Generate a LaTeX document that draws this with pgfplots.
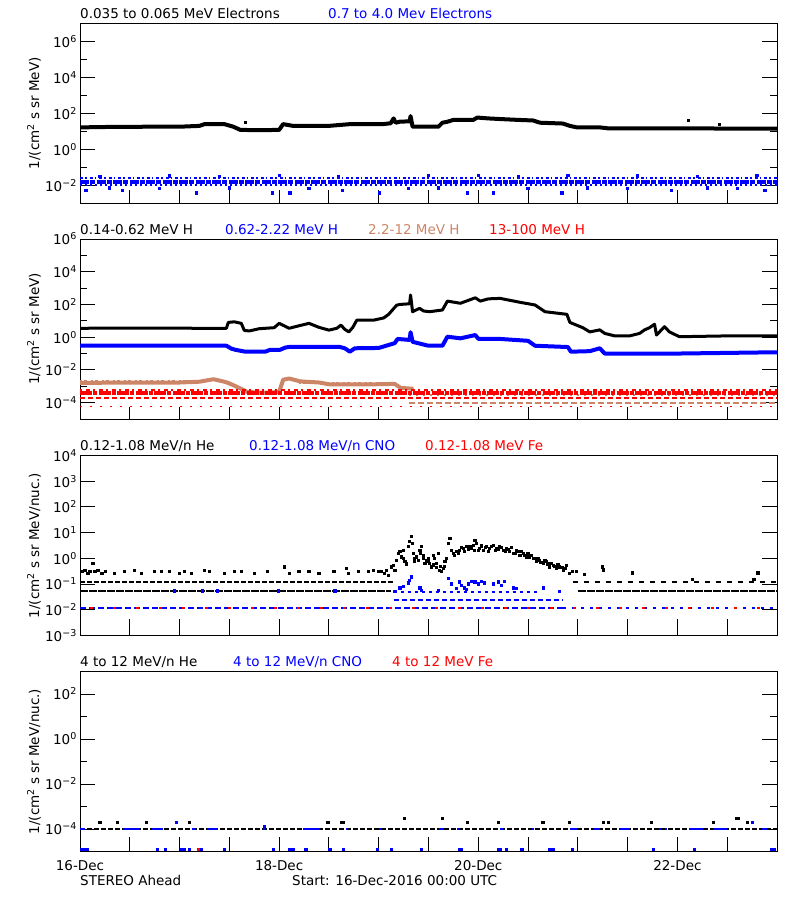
\documentclass[border=0pt]{standalone}
\usepackage{pgfplots}
\pgfplotsset{compat=1.18}
\usepackage{fontspec}
\setmainfont{DejaVu Sans}
\newcommand\myfont{\fontsize{13.5bp}{16bp}\selectfont}
\newcommand\sups[1]{\raisebox{5bp}{\fontsize{9.5bp}{10bp}\selectfont #1}}
\definecolor{sienna}{RGB}{204,133,102}
\pgfplotsset{
  every axis y label/.style={at={(rel axis cs:0,0.5)}, xshift=-46bp, rotate=90, anchor=center, inner sep=0pt},
  panel/.style={
    scale only axis, width=697bp, height=180bp, anchor=north west,
    xmin=0, xmax=7, xtick=\empty,
    major tick length=15bp, minor tick length=7bp,
    tick style={black, line width=1bp},
    axis line style={line width=1bp},
    tick align=inside,
    yticklabel style={xshift=-3.5bp},
    unbounded coords=jump,
  },
  dots/.style={only marks, mark=square*, mark size=1.1bp, mark options={line width=0pt}},
}
\newcommand\xticks{%
  \pgfplotsinvokeforeach{0.5,1,1.5,2,2.5,3,3.5,4,4.5,5,5.5,6,6.5}{%
    \draw[line width=1bp] ({axis cs:##1,1} |- {rel axis cs:0,0}) -- ++(0,5bp);
    \draw[line width=1bp] ({axis cs:##1,1} |- {rel axis cs:0,1}) -- ++(0,-5bp);}}
\begin{document}
\myfont
\begin{tikzpicture}[every node/.append style={inner sep=0pt}]
\useasboundingbox (0,0) rectangle (800bp,-900bp);

% ---- panel 1: electrons
\begin{axis}[panel, at={(80bp,-23.3bp)}, ymode=log, ymin=1e-3, ymax=1e7,
  ytick={1e-2,1,1e2,1e4,1e6}, minor ytick={1e-1,1e1,1e3,1e5},
  yticklabels={10\sups{−2},10\sups{0},10\sups{2},10\sups{4},10\sups{6}},
  ylabel={1/(cm\sups{2} s sr MeV)}]
\xticks
\addplot[black, line width=4bp, line join=round] coordinates {
 (0,16.5)(0.3,17.5)(0.7,18)(1.0,18)(1.2,20)(1.25,25)(1.45,25)(1.54,18)(1.61,12)
 (1.8,11.5)(2.0,12)(2.04,25)(2.14,20)(2.5,20)(2.71,25)(3.04,25)(3.12,28)(3.15,52)
 (3.17,30)(3.21,34)(3.31,36)(3.32,70)(3.34,18)(3.6,18)(3.64,30)(3.69,34)(3.75,43)
 (3.95,43)(3.99,58)(4.1,52)(4.22,48)(4.4,43)(4.55,40)(4.62,30)(4.85,27)(4.92,20)
 (4.99,16.5)(5.22,16.5)(5.3,14.7)(6,14.5)(7,14)};
\addplot[black, dots] coordinates {(1.66,31)(6.11,40)(6.42,25)};
\addplot[blue, line width=4bp, dash pattern=on 9bp off 1bp on 5bp off 1.5bp] coordinates {(0,0.016)(7,0.016)};
\addplot[blue, line width=2bp, dash pattern=on 3bp off 2bp on 1.5bp off 3bp] coordinates {(0,0.025)(7,0.025)};
\addplot[blue, line width=2bp, dash pattern=on 2bp off 3bp] coordinates {(0,0.0098)(7,0.0098)};
\addplot[blue, dots] coordinates {
 (0.06,0.005)(0.43,0.005)(1.17,0.0037)(1.93,0.0037)(2.11,0.0037)(2.64,0.005)
 (3.01,0.0037)(3.89,0.0037)(4.15,0.0037)(4.84,0.0037)(5.94,0.005)(6.88,0.005)
 (0.3,0.007)(0.8,0.0065)(1.5,0.007)(2.3,0.0068)(3.3,0.0066)(3.6,0.007)(4.5,0.0065)
 (5.1,0.007)(5.5,0.0068)(6.3,0.007)(6.6,0.0066)
 (0.2,0.032)(0.9,0.033)(1.4,0.031)(2.0,0.034)(2.6,0.031)(3.5,0.035)(4.0,0.034)
 (4.4,0.032)(4.9,0.035)(5.6,0.033)(6.2,0.032)(6.8,0.034)};
\end{axis}

% ---- panel 2: protons
\begin{axis}[panel, at={(80bp,-239bp)}, ymode=log, ymin=1e-5, ymax=1e6,
  ytick={1e-4,1e-2,1,1e2,1e4,1e6}, minor ytick={1e-3,1e-1,1e1,1e3,1e5},
  yticklabels={10\sups{−4},10\sups{−2},10\sups{0},10\sups{2},10\sups{4},10\sups{6}},
  ylabel={1/(cm\sups{2} s sr MeV)}]
\xticks
\addplot[black, line width=3bp, line join=round] coordinates {
 (0,3.5)(0.5,3.6)(1.0,3.6)(1.3,3.4)(1.47,3.5)(1.49,8)(1.55,8.7)(1.62,7)(1.65,2.6)
 (1.7,2.4)(1.8,3.3)(1.95,3.8)(2.0,7)(2.05,5)(2.1,3.5)(2.2,5)(2.3,7)(2.4,4)(2.5,2.7)
 (2.58,3.5)(2.62,5.5)(2.66,3)(2.7,2.1)(2.74,4)(2.78,11)(2.95,11)(3.05,15)(3.1,25)
 (3.18,90)(3.21,100)(3.31,110)(3.32,380)(3.34,36)(3.41,58)(3.45,40)(3.51,36)
 (3.64,46)(3.69,160)(3.82,118)(3.97,255)(4.02,160)(4.1,220)(4.22,235)(4.42,135)
 (4.57,93)(4.67,36)(4.89,25)(4.92,8)(5.05,3.8)(5.12,2.1)(5.22,2.8)(5.27,1.7)
 (5.37,1.2)(5.52,1.2)(5.62,1.7)(5.67,2.8)(5.72,3.8)(5.77,6.2)(5.79,1.35)(5.87,4.4)
 (5.92,2.1)(6.02,1.07)(6.5,1.2)(7,1.2)};
\addplot[blue, line width=4bp, line join=round] coordinates {
 (0,0.3)(1.0,0.3)(1.47,0.3)(1.52,0.2)(1.56,0.17)(1.66,0.13)(1.86,0.13)(1.91,0.17)
 (2.01,0.17)(2.06,0.23)(2.11,0.26)(2.6,0.26)(2.66,0.21)(2.71,0.13)(2.76,0.21)
 (3.0,0.22)(3.16,0.43)(3.19,0.78)(3.31,0.68)(3.32,2.0)(3.34,0.52)(3.5,0.3)(3.64,0.3)
 (3.69,1.07)(3.82,0.85)(3.97,1.35)(4.0,0.8)(4.22,0.78)(4.5,0.6)(4.57,0.3)(4.9,0.25)
 (4.93,0.13)(5.12,0.14)(5.22,0.21)(5.27,0.1)(6.0,0.1)(7,0.12)};
\addplot[sienna, line width=4bp, line join=round] coordinates {
 (0,0.0016)(0.5,0.0017)(1.0,0.0017)(1.2,0.0019)(1.34,0.0027)(1.45,0.0019)(1.5,0.0015)
 (1.58,0.0009)(1.68,0.00045)(1.85,0.0004)(2.0,0.00045)(2.04,0.0025)(2.1,0.003)
 (2.21,0.002)(2.4,0.0017)(2.51,0.0013)(2.9,0.0013)(3.16,0.0014)(3.22,0.0008)(3.35,0.0007)};
\addplot[sienna, line width=2bp, dash pattern=on 2bp off 2bp on 3bp off 4bp] coordinates {(0,0.0022)(1.2,0.0022)};
\addplot[sienna, line width=2bp, dash pattern=on 2bp off 2bp on 3bp off 4bp] coordinates {(2.2,0.0017)(3.1,0.0017)};
\addplot[sienna, line width=2bp, dash pattern=on 6bp off 3bp] coordinates {(3.3,0.0001)(7,0.0001)};
\addplot[sienna, line width=2bp, dash pattern=on 2bp off 5bp] coordinates {(3.3,0.0003)(7,0.0003)};
\addplot[red, line width=3.5bp, dash pattern=on 12bp off 1bp on 4bp off 1.5bp] coordinates {(0,0.0004)(7,0.0004)};
\addplot[red, line width=2bp, dash pattern=on 2bp off 4bp on 4bp off 3bp] coordinates {(0,0.0006)(7,0.0006)};
\addplot[red, line width=1.5bp, dash pattern=on 5bp off 3bp] coordinates {(0,0.00019)(7,0.00019)};
\addplot[red, line width=1.5bp, dash pattern=on 2bp off 8bp] coordinates {(0,0.00006)(7,0.00006)};
\end{axis}

% ---- panel 3: 0.12-1.08 MeV/n ions
\begin{axis}[panel, at={(80bp,-455.5bp)}, ymode=log, ymin=1e-3, ymax=1e4,
  ytick={1e-3,1e-2,1e-1,1,1e1,1e2,1e3,1e4}, minor ytick={1e5},
  yticklabels={10\sups{−3},10\sups{−2},10\sups{−1},10\sups{0},10\sups{1},10\sups{2},10\sups{3},10\sups{4}},
  ylabel={1/(cm\sups{2} s sr MeV/nuc.)}]
\xticks
\addplot[black, line width=2bp, dash pattern=on 5bp off 2bp] coordinates {(0,0.12)(3.15,0.12)};
\addplot[black, line width=2bp, dash pattern=on 5bp off 6bp] coordinates {(4.95,0.12)(7,0.12)};
\addplot[black, line width=2bp, dash pattern=on 8bp off 1bp] coordinates {(0,0.054)(3.12,0.054)};
\addplot[black, line width=2bp, dash pattern=on 8bp off 1bp] coordinates {(5.0,0.054)(7,0.054)};
\addplot[black, dots] coordinates {
 (0.02,0.3)(0.05,0.34)(0.08,0.26)(0.1,0.31)(0.13,0.63)(0.15,0.3)(0.18,0.34)(0.22,0.26)
 (0.26,0.3)(0.35,0.26)(0.45,0.3)(0.55,0.34)(0.62,0.26)(0.75,0.3)(0.82,0.31)(0.9,0.3)
 (1.0,0.26)(1.05,0.31)(1.12,0.26)(1.25,0.34)(1.3,0.3)(1.45,0.26)(1.55,0.3)(1.62,0.31)
 (1.75,0.26)(1.88,0.3)(2.05,0.46)(2.1,0.26)(2.2,0.3)(2.3,0.31)(2.4,0.26)(2.55,0.3)
 (2.68,0.4)(2.7,0.26)(2.8,0.31)(2.9,0.3)(2.95,0.34)(3.0,0.3)
 (3.029,0.30)(3.062,0.26)(3.079,0.34)(3.096,0.22)(3.129,0.46)(3.146,0.54)(3.163,0.34)
 (3.179,0.85)(3.196,1.54)(3.213,1.79)(3.230,1.14)(3.246,2.08)(3.263,0.73)(3.297,2.81)
 (3.313,4.40)(3.330,6.89)(3.340,3.79)(3.347,1.54)(3.363,0.73)(3.380,1.14)(3.397,0.85)
 (3.414,2.08)(3.430,2.81)(3.447,1.33)(3.464,0.63)(3.481,0.85)(3.497,0.98)(3.514,0.63)
 (3.531,0.46)(3.547,1.33)(3.564,0.98)(3.581,0.63)(3.598,1.54)(3.614,0.34)(3.631,0.30)
 (3.648,0.40)(3.665,0.73)(3.681,0.98)(3.698,3.79)(3.715,5.93)(3.732,2.08)(3.748,1.54)
 (3.765,1.33)(3.782,1.79)(3.815,2.08)(3.849,2.42)(3.882,2.81)(3.916,2.81)(3.949,3.26)
 (3.966,4.81)(3.983,3.79)(3.999,2.08)(4.016,2.42)(4.049,2.08)(4.083,2.81)(4.116,2.42)
 (4.150,3.26)(4.183,2.42)(4.217,2.81)(4.250,2.08)(4.284,2.42)(4.317,1.79)(4.351,1.54)
 (4.384,2.08)(4.418,1.33)(4.451,1.54)(4.485,1.14)(4.518,1.14)(4.552,0.98)(4.585,0.73)
 (4.618,0.85)(4.652,0.63)(4.685,0.73)(4.719,0.46)(4.752,0.54)(4.786,0.40)(4.819,0.46)
 (4.853,0.34)(4.886,0.54)(4.920,0.26)(4.987,0.30)
 (3.80,1.6)(3.83,2.6)(3.86,1.9)(3.90,2.2)(3.93,2.5)(3.96,2.0)(4.03,3.0)(4.07,2.6)
 (4.10,1.9)(4.13,2.9)(4.17,2.0)(4.20,2.2)(4.23,2.6)(4.27,1.9)(4.30,2.2)(4.33,2.6)
 (4.37,1.6)(4.40,1.8)(4.43,1.9)(4.47,1.3)(4.50,1.5)(4.53,1.3)(4.57,1.0)(4.60,0.95)
 (4.63,0.7)(4.67,0.8)(4.70,0.6)(4.73,0.65)(4.77,0.5)(4.80,0.55)(4.84,0.45)(4.87,0.4)
 (3.25,1.0)(3.28,0.6)(3.36,1.0)(3.42,1.6)(3.45,1.0)(3.50,0.75)(3.55,0.55)(3.58,0.45)
 (3.62,0.5)(3.66,0.5)
 (4.95,0.3)(5.07,0.23)(5.25,0.46)(5.26,0.35)(5.55,0.27)(6.15,0.15)(6.77,0.15)(6.81,0.27)};
\addplot[blue, line width=2bp, dash pattern=on 6bp off 3bp] coordinates {(0,0.0115)(4.85,0.0115)};
\addplot[blue, line width=2bp, dash pattern=on 3bp off 6bp] coordinates {(4.85,0.0115)(7,0.0115)};
\addplot[red, line width=2bp, dash pattern=on 3bp off 20bp] coordinates {(0.1,0.0115)(7,0.0115)};
\addplot[blue, line width=2bp, dash pattern=on 5bp off 3bp] coordinates {(3.15,0.025)(4.85,0.025)};
\addplot[blue, line width=2bp, dash pattern=on 3bp off 4bp] coordinates {(3.15,0.049)(4.6,0.049)};
\addplot[blue, dots] coordinates {
 (0.95,0.054)(1.23,0.054)(1.38,0.054)(1.99,0.054)(2.56,0.054)
 (3.330,0.19)(3.313,0.14)(3.297,0.11)(3.213,0.07)(3.246,0.08)(3.414,0.07)(3.698,0.16)
 (3.732,0.10)(3.815,0.12)(3.832,0.09)(3.865,0.07)(3.899,0.10)(3.932,0.13)(3.966,0.12)
 (3.999,0.10)(4.032,0.13)(4.066,0.11)(4.150,0.10)(4.200,0.12)(4.234,0.09)(4.267,0.13)
 (4.351,0.07)(4.384,0.066)(3.782,0.066)(3.882,0.06)(4.652,0.07)(4.819,0.052)
 (3.598,0.056)(3.430,0.056)(3.163,0.052)};
\end{axis}

% ---- panel 4: 4-12 MeV/n ions
\begin{axis}[panel, at={(80bp,-671.5bp)}, ymode=log, ymin=1e-5, ymax=1e3,
  ytick={1e-4,1e-2,1,1e2}, minor ytick={1e-3,1e-1,1e1},
  yticklabels={10\sups{−4},10\sups{−2},10\sups{0},10\sups{2}},
  ylabel={1/(cm\sups{2} s sr MeV/nuc.)}]
\xticks
\addplot[black, line width=1.5bp, dash pattern=on 5bp off 2bp] coordinates {(0,1e-4)(7,1e-4)};
\addplot[blue, line width=1.5bp] coordinates {
 (0,1e-4)(0.05,1e-4)(0.05,nan)(0.43,1e-4)(0.6,1e-4)(0.6,nan)(0.72,1e-4)(0.83,1e-4)(0.83,nan)
 (1.12,1e-4)(1.17,1e-4)(1.17,nan)(1.28,1e-4)(1.38,1e-4)(1.38,nan)(1.84,1e-4)(1.86,1e-4)(1.86,nan)
 (2.24,1e-4)(2.41,1e-4)(2.41,nan)(2.67,1e-4)(2.69,1e-4)(2.69,nan)(3.0,1e-4)(3.02,1e-4)(3.02,nan)
 (3.61,1e-4)(3.66,1e-4)(3.66,nan)(3.79,1e-4)(3.81,1e-4)(3.81,nan)(4.22,1e-4)(4.25,1e-4)(4.25,nan)
 (4.54,1e-4)(4.56,1e-4)(4.56,nan)(4.92,1e-4)(4.99,1e-4)(4.99,nan)(5.15,1e-4)(5.22,1e-4)(5.22,nan)
 (5.42,1e-4)(5.52,1e-4)(5.52,nan)(5.81,1e-4)(5.83,1e-4)(5.83,nan)(5.88,1e-4)(5.9,1e-4)(5.9,nan)
 (6.12,1e-4)(6.26,1e-4)(6.26,nan)(6.36,1e-4)(6.5,1e-4)(6.5,nan)(6.85,1e-4)(6.9,1e-4)};
\addplot[black, dots] coordinates {
 (0.2,2e-4)(0.38,2e-4)(0.67,2e-4)(1.1,2e-4)(2.49,2e-4)(2.63,2e-4)(2.65,2e-4)(3.26,3e-4)
 (3.64,3e-4)(3.89,1.9e-4)(4.2,2e-4)(4.65,1.9e-4)(4.92,2e-4)(5.26,2e-4)(5.31,2e-4)
 (5.74,2e-4)(6.36,2e-4)(6.59,3e-4)(6.61,3e-4)(6.7,2e-4)};
\addplot[blue, dots] coordinates {
 (0.97,2e-4)(6.75,2e-4)(1.85,1.25e-4)
 (0.02,1.2e-5)(0.05,1.2e-5)(0.07,1.2e-5)(0.78,1.2e-5)(0.86,1.2e-5)(1.02,1.2e-5)(1.05,1.2e-5)
 (1.10,1.2e-5)(1.22,1.2e-5)(1.45,1.2e-5)(1.94,1.2e-5)(2.10,1.2e-5)(2.14,1.2e-5)(2.27,1.2e-5)
 (2.51,1.2e-5)(2.65,1.2e-5)(2.99,1.2e-5)(3.13,1.2e-5)(3.43,1.2e-5)(3.81,1.2e-5)(3.83,1.2e-5)
 (4.20,1.2e-5)(4.22,1.2e-5)(4.28,1.2e-5)(4.44,1.2e-5)(4.72,1.2e-5)(4.75,1.2e-5)(4.95,1.2e-5)
 (5.76,1.2e-5)(6.17,1.2e-5)(6.95,1.2e-5)(6.97,1.2e-5)};
\addplot[red, dots] coordinates {(1.19,1.2e-5)};
\end{axis}

% ---- titles above panels, date labels and footer
\node[anchor=base west] at (80bp,-18.3bp) {0.035 to 0.065 MeV Electrons};
\node[anchor=base west, text=blue] at (328bp,-18.3bp) {0.7 to 4.0 Mev Electrons};
\node[anchor=base west] at (80bp,-234bp) {0.14-0.62 MeV H};
\node[anchor=base west, text=blue] at (225bp,-234bp) {0.62-2.22 MeV H};
\node[anchor=base west, text=sienna] at (368bp,-234bp) {2.2-12 MeV H};
\node[anchor=base west, text=red] at (489bp,-234bp) {13-100 MeV H};
\node[anchor=base west] at (80bp,-450bp) {0.12-1.08 MeV/n He};
\node[anchor=base west, text=blue] at (249bp,-450bp) {0.12-1.08 MeV/n CNO};
\node[anchor=base west, text=red] at (425bp,-450bp) {0.12-1.08 MeV Fe};
\node[anchor=base west] at (80bp,-666.5bp) {4 to 12 MeV/n He};
\node[anchor=base west, text=blue] at (233bp,-666.5bp) {4 to 12 MeV/n CNO};
\node[anchor=base west, text=red] at (392bp,-666.5bp) {4 to 12 MeV Fe};
\node[anchor=base] at (80bp,-870bp) {16-Dec};
\node[anchor=base] at (279.1bp,-870bp) {18-Dec};
\node[anchor=base] at (478.3bp,-870bp) {20-Dec};
\node[anchor=base] at (677.4bp,-870bp) {22-Dec};
\node[anchor=base west] at (80bp,-885bp) {STEREO Ahead};
\node[anchor=base west] at (292bp,-885bp) {Start: 16-Dec-2016 00:00 UTC};
\end{tikzpicture}
\end{document}
